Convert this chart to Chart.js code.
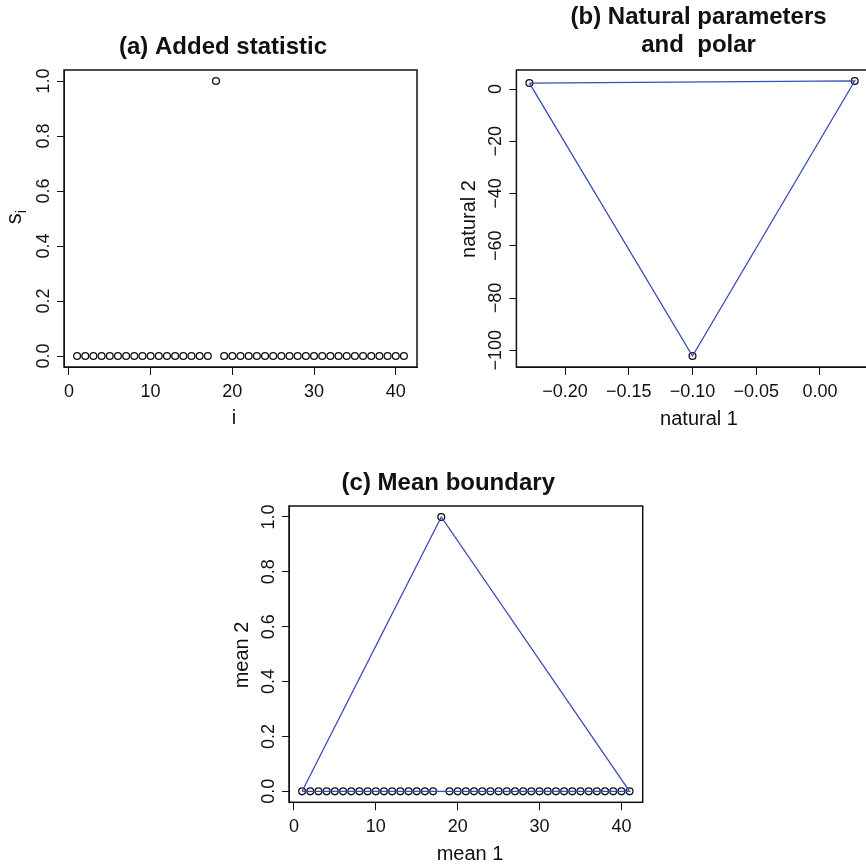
<!DOCTYPE html>
<html>
<head>
<meta charset="utf-8">
<script src="https://cdn.jsdelivr.net/npm/chart.js@4.4.1/dist/chart.umd.min.js"></script>
<style>
  html, body { margin: 0; padding: 0; background: #fff; }
  body { width: 866px; height: 866px; overflow: hidden; position: relative; }
  canvas { position: absolute; }
</style>
</head>
<body>
<canvas id="chartA" width="433" height="433" style="left:0;top:0"></canvas>
<canvas id="chartB" width="440" height="433" style="left:433px;top:0"></canvas>
<canvas id="chartC" width="440" height="433" style="left:220px;top:433px"></canvas>
<script>
// (a) added statistic s_i against i
const idx = [1, 2, 3, 4, 5, 6, 7, 8, 9, 10, 11, 12, 13, 14, 15, 16, 17, 18, 19, 20,
  21, 22, 23, 24, 25, 26, 27, 28, 29, 30, 31, 32, 33, 34, 35, 36, 37, 38, 39, 40, 41];
const addedStat = [0, 0, 0, 0, 0, 0, 0, 0, 0, 0, 0, 0, 0, 0, 0, 0, 0, 1, 0, 0,
  0, 0, 0, 0, 0, 0, 0, 0, 0, 0, 0, 0, 0, 0, 0, 0, 0, 0, 0, 0, 0];

// (b) natural parameters (polar vertices)
const natural1 = [-0.228, 0.0273, -0.1];
const natural2 = [2.3, 3.1, -102.2];

// (c) mean boundary vertices
const boundMean1 = [1, 18, 41];
const boundMean2 = [0, 1, 0];

// tick labels
const iTicks = [0, 10, 20, 30, 40];
const unitTicks = [0, 0.2, 0.4, 0.6, 0.8, 1];
const nat1Ticks = [-0.2, -0.15, -0.1, -0.05, 0];
const nat2Ticks = [-100, -80, -60, -40, -20, 0];

const BLUE = "rgb(55, 75, 185)";
const INK = "#111";
const FONT = '"Liberation Sans", Arial, Helvetica, sans-serif';

function fmt(v, dec) {
  return (v < 0 ? "\u2212" : "") + Math.abs(v).toFixed(dec);
}

function pts(xs, ys) {
  return xs.map((x, k) => ({ x: x, y: ys[k] }));
}

// closes the polygon back to its first vertex
function closed(xs, ys) {
  const p = pts(xs, ys);
  return p.concat([p[0]]);
}

// box, titles and axis labels, R style
const rText = {
  id: "rText",
  afterDraw(chart, args, o) {
    const { ctx, chartArea: a } = chart;
    ctx.save();
    ctx.strokeStyle = INK;
    ctx.lineWidth = 1.5;
    ctx.strokeRect(a.left, a.top, a.right - a.left, a.bottom - a.top);
    ctx.fillStyle = INK;
    ctx.textAlign = "center";
    ctx.textBaseline = "alphabetic";
    ctx.font = "bold 24px " + FONT;
    o.title.forEach((t, k) => ctx.fillText(t, o.titleX, o.titleY[k]));
    ctx.font = "20px " + FONT;
    ctx.fillText(o.xlab, o.xlabX, o.xlabY);
    ctx.translate(o.ylabX, o.ylabY);
    ctx.rotate(-Math.PI / 2);
    if (o.ylabSub) {
      ctx.font = "22px " + FONT;
      const w1 = ctx.measureText(o.ylab).width;
      ctx.font = "15px " + FONT;
      const w2 = ctx.measureText(o.ylabSub).width;
      ctx.textAlign = "left";
      ctx.fillText(o.ylabSub, -(w1 + w2) / 2 + w1, 5);
      ctx.font = "22px " + FONT;
      ctx.fillText(o.ylab, -(w1 + w2) / 2, 0);
    } else {
      ctx.fillText(o.ylab, 0, 0);
    }
    ctx.restore();
  },
};

function scales(xr, yr, xt, yt, xdec, ydec, ypad) {
  const tickFont = { family: FONT, size: 18 };
  return {
    x: {
      type: "linear",
      min: xr[0],
      max: xr[1],
      afterBuildTicks: (s) => { s.ticks = xt.map((v) => ({ value: v })); },
      afterFit: (s) => { s.height = 40; },
      grid: { drawOnChartArea: false, drawTicks: true, tickLength: 8, color: INK, lineWidth: 1 },
      border: { display: true, color: INK, width: 1 },
      ticks: {
        autoSkip: false, minRotation: 0, maxRotation: 0, padding: 6,
        color: INK, font: tickFont, callback: (v) => fmt(v, xdec),
      },
    },
    y: {
      type: "linear",
      min: yr[0],
      max: yr[1],
      afterBuildTicks: (s) => { s.ticks = yt.map((v) => ({ value: v })); },
      afterFit: (s) => { s.width = 50; },
      grid: { drawOnChartArea: false, drawTicks: true, tickLength: 7, color: INK, lineWidth: 1 },
      border: { display: true, color: INK, width: 1 },
      ticks: {
        autoSkip: false, minRotation: 90, maxRotation: 90, crossAlign: "center", padding: ypad,
        color: INK, font: tickFont, callback: (v) => fmt(v, ydec),
      },
    },
  };
}

function circles(data) {
  return {
    data: data,
    showLine: false,
    pointStyle: "circle",
    pointRadius: 3.4,
    pointBorderWidth: 1.3,
    pointBorderColor: INK,
    pointBackgroundColor: "rgba(0,0,0,0)",
  };
}

function polygon(data) {
  return {
    data: data,
    showLine: true,
    borderColor: BLUE,
    borderWidth: 1.3,
    pointRadius: 0,
    fill: false,
  };
}

function baseOptions(padding, sc, text) {
  return {
    responsive: false,
    animation: false,
    layout: { padding: padding },
    scales: sc,
    plugins: {
      legend: { display: false },
      tooltip: { enabled: false },
      rText: text,
    },
  };
}

new Chart(document.getElementById("chartA"), {
  type: "scatter",
  data: { datasets: [circles(pts(idx, addedStat))] },
  options: baseOptions(
    { left: 14, top: 70, right: 16, bottom: 26 },
    scales([-0.6, 42.6], [-0.04, 1.04], iTicks, unitTicks, 0, 1, 0.5),
    { title: ["(a) Added statistic"], titleX: 223, titleY: [54],
      xlab: "i", xlabX: 234, xlabY: 424, ylab: "s", ylabSub: "i", ylabX: 21, ylabY: 217 }
  ),
  plugins: [rText],
});

new Chart(document.getElementById("chartB"), {
  type: "scatter",
  data: { datasets: [polygon(closed(natural1, natural2)), circles(pts(natural1, natural2))] },
  options: baseOptions(
    { left: 33.4, top: 70, right: 3.7, bottom: 26 },
    scales([-0.2382, 0.0375], [-106.4, 7.3], nat1Ticks, nat2Ticks, 2, 0, -7.3),
    { title: ["(b) Natural parameters", "and  polar"], titleX: 265.6, titleY: [23.5, 51.5],
      xlab: "natural 1", xlabX: 266, xlabY: 425, ylab: "natural 2", ylabX: 42.4, ylabY: 219 }
  ),
  plugins: [rText],
});

new Chart(document.getElementById("chartC"), {
  type: "scatter",
  data: { datasets: [polygon(closed(boundMean1, boundMean2)), circles(pts(idx, addedStat))] },
  options: baseOptions(
    { left: 19, top: 73, right: 17.3, bottom: 23.7 },
    scales([-0.6, 42.6], [-0.04, 1.04], iTicks, unitTicks, 0, 1, 0.5),
    { title: ["(c) Mean boundary"], titleX: 228.3, titleY: [57],
      xlab: "mean 1", xlabX: 250, xlabY: 427, ylab: "mean 2", ylabX: 28, ylabY: 222 }
  ),
  plugins: [rText],
});
</script>
</body>
</html>
